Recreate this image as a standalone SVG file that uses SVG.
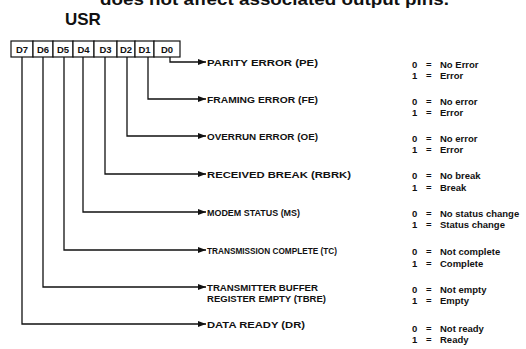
<svg xmlns="http://www.w3.org/2000/svg" width="526" height="349" viewBox="0 0 526 349">
<style>
.title{font-family:"Liberation Sans",Arial,sans-serif;font-weight:bold;fill:#111}
.cell{fill:#fff;stroke:#111;stroke-width:1.2}
.ct{font-family:"Liberation Sans",Arial,sans-serif;font-weight:bold;font-size:9.5px;fill:#111;text-anchor:middle}
.lbl{font-family:"Liberation Sans",Arial,sans-serif;font-weight:bold;font-size:9.5px;fill:#111}
.val{font-family:"Liberation Sans",Arial,sans-serif;font-weight:bold;font-size:9.5px;fill:#111}
.wire{fill:none;stroke:#111;stroke-width:1.3;marker-end:url(#ah)}
</style>
<defs>
<marker id="ah" viewBox="0 0 8 6" refX="8" refY="3" markerWidth="8" markerHeight="6" markerUnits="userSpaceOnUse" orient="auto">
<path d="M0,0 L8,3 L0,6 Z" fill="#111"/>
</marker>
</defs>
<rect width="526" height="349" fill="#fff"/>
<text class="title" x="100" y="5" font-size="17" textLength="349" lengthAdjust="spacingAndGlyphs">does not affect associated output pins.</text>
<text class="title" x="65" y="25" font-size="17">USR</text>

<g id="register">
<rect class="cell" x="11" y="41" width="22" height="16"/><text class="ct" x="22" y="53">D7</text>
<rect class="cell" x="33" y="41" width="20" height="16"/><text class="ct" x="43" y="53">D6</text>
<rect class="cell" x="53" y="41" width="20" height="16"/><text class="ct" x="63" y="53">D5</text>
<rect class="cell" x="73" y="41" width="21" height="16"/><text class="ct" x="83.5" y="53">D4</text>
<rect class="cell" x="94" y="41" width="23" height="16"/><text class="ct" x="105.5" y="53">D3</text>
<rect class="cell" x="117" y="41" width="18" height="16"/><text class="ct" x="126" y="53">D2</text>
<rect class="cell" x="135" y="41" width="19" height="16"/><text class="ct" x="144.5" y="53">D1</text>
<rect class="cell" x="154" y="41" width="26" height="16"/><text class="ct" x="167" y="53">D0</text>
</g>

<g id="connectors">
<path class="wire" d="M170,57 V62 H206"/>
<path class="wire" d="M148,57 V99 H206"/>
<path class="wire" d="M127,57 V136 H206"/>
<path class="wire" d="M105,57 V174 H206"/>
<path class="wire" d="M83,57 V212 H206"/>
<path class="wire" d="M64,57 V250 H206"/>
<path class="wire" d="M43,57 V287 H206"/>
<path class="wire" d="M22,57 V324 H206"/>
</g>

<g id="pe">
<text class="lbl" x="207" y="66" textLength="111" lengthAdjust="spacingAndGlyphs">PARITY ERROR (PE)</text>
<text class="val" x="412" y="68">0</text><text class="val" x="426" y="68">=</text><text class="val" x="440" y="68">No Error</text>
<text class="val" x="412" y="79">1</text><text class="val" x="426" y="79">=</text><text class="val" x="440" y="79">Error</text>
</g>
<g id="fe">
<text class="lbl" x="207" y="103" textLength="111" lengthAdjust="spacingAndGlyphs">FRAMING ERROR (FE)</text>
<text class="val" x="412" y="105">0</text><text class="val" x="426" y="105">=</text><text class="val" x="440" y="105">No error</text>
<text class="val" x="412" y="116">1</text><text class="val" x="426" y="116">=</text><text class="val" x="440" y="116">Error</text>
</g>
<g id="oe">
<text class="lbl" x="207" y="140" textLength="111" lengthAdjust="spacingAndGlyphs">OVERRUN ERROR (OE)</text>
<text class="val" x="412" y="142">0</text><text class="val" x="426" y="142">=</text><text class="val" x="440" y="142">No error</text>
<text class="val" x="412" y="153">1</text><text class="val" x="426" y="153">=</text><text class="val" x="440" y="153">Error</text>
</g>
<g id="rbrk">
<text class="lbl" x="207" y="178" textLength="144" lengthAdjust="spacingAndGlyphs">RECEIVED BREAK (RBRK)</text>
<text class="val" x="412" y="179">0</text><text class="val" x="426" y="179">=</text><text class="val" x="440" y="179">No break</text>
<text class="val" x="412" y="191">1</text><text class="val" x="426" y="191">=</text><text class="val" x="440" y="191">Break</text>
</g>
<g id="ms">
<text class="lbl" x="207" y="216" textLength="93" lengthAdjust="spacingAndGlyphs">MODEM STATUS (MS)</text>
<text class="val" x="412" y="217">0</text><text class="val" x="426" y="217">=</text><text class="val" x="440" y="217">No status change</text>
<text class="val" x="412" y="228">1</text><text class="val" x="426" y="228">=</text><text class="val" x="440" y="228">Status change</text>
</g>
<g id="tc">
<text class="lbl" x="207" y="254" textLength="130" lengthAdjust="spacingAndGlyphs">TRANSMISSION COMPLETE (TC)</text>
<text class="val" x="412" y="255">0</text><text class="val" x="426" y="255">=</text><text class="val" x="440" y="255">Not complete</text>
<text class="val" x="412" y="267">1</text><text class="val" x="426" y="267">=</text><text class="val" x="440" y="267">Complete</text>
</g>
<g id="tbre">
<text class="lbl" x="207" y="291" textLength="111" lengthAdjust="spacingAndGlyphs">TRANSMITTER BUFFER</text>
<text class="lbl" x="207" y="302" textLength="119" lengthAdjust="spacingAndGlyphs">REGISTER EMPTY (TBRE)</text>
<text class="val" x="412" y="293">0</text><text class="val" x="426" y="293">=</text><text class="val" x="440" y="293">Not empty</text>
<text class="val" x="412" y="304">1</text><text class="val" x="426" y="304">=</text><text class="val" x="440" y="304">Empty</text>
</g>
<g id="dr">
<text class="lbl" x="207" y="328" textLength="98" lengthAdjust="spacingAndGlyphs">DATA READY (DR)</text>
<text class="val" x="412" y="332">0</text><text class="val" x="426" y="332">=</text><text class="val" x="440" y="332">Not ready</text>
<text class="val" x="412" y="343">1</text><text class="val" x="426" y="343">=</text><text class="val" x="440" y="343">Ready</text>
</g>
</svg>
